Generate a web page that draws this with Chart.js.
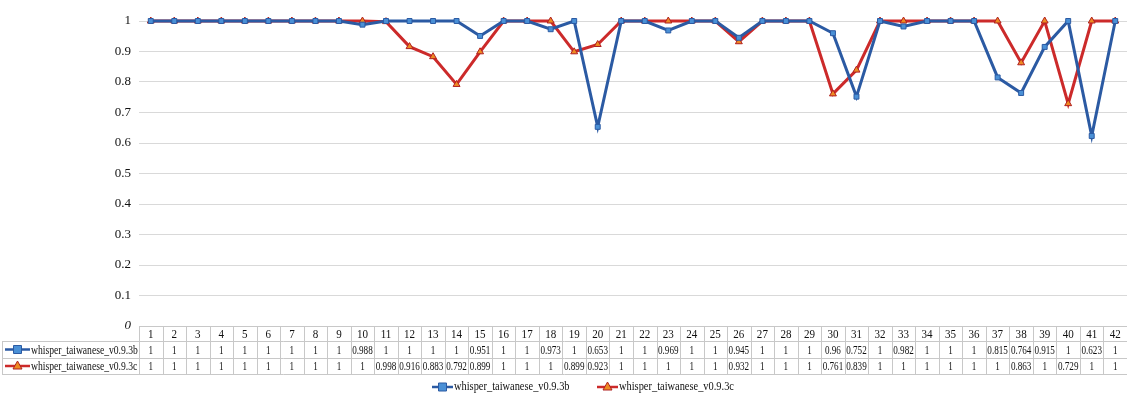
<!DOCTYPE html>
<html>
<head>
<meta charset="utf-8">
<script src="https://cdn.jsdelivr.net/npm/chart.js@4"></script>
<style>
  html, body { margin: 0; padding: 0; background: #fff; overflow: hidden; }
  #wrap { width: 1127px; height: 402px; overflow: hidden; }
</style>
</head>
<body>
<div id="wrap"><canvas id="chart" width="1132" height="402"></canvas></div>
<script>
// categories (test items 1..42)
const categories = [];
for (let i = 1; i <= 42; i++) categories.push(String(i));

// series names
const seriesB = 'whisper_taiwanese_v0.9.3b';
const seriesC = 'whisper_taiwanese_v0.9.3c';

const valuesB = [1, 1, 1, 1, 1, 1, 1, 1, 1, 0.988, 1, 1, 1, 1, 0.951, 1, 1, 0.973, 1, 0.653,
  1, 1, 0.969, 1, 1, 0.945, 1, 1, 1, 0.96, 0.752, 1, 0.982, 1, 1, 1, 0.815, 0.764, 0.915, 1, 0.623, 1];
const valuesC = [1, 1, 1, 1, 1, 1, 1, 1, 1, 1, 0.998, 0.916, 0.883, 0.792, 0.899, 1, 1, 1, 0.899, 0.923,
  1, 1, 1, 1, 1, 0.932, 1, 1, 1, 0.761, 0.839, 1, 1, 1, 1, 1, 1, 0.863, 1, 0.729, 1, 1];

// y axis tick values
const yTicks = [0, 0.1, 0.2, 0.3, 0.4, 0.5, 0.6, 0.7, 0.8, 0.9, 1];

const FONT = '"Liberation Serif", "Times New Roman", serif';
const BLUE_LINE = '#2b5aa3';
const BLUE_FILL = '#4a90d6';
const RED_LINE = '#cc2a2a';
const RED_FILL = '#ee8a22';
const GRID = '#d9d9d9';
const BORDER = '#c8c8c8';

// draws text squeezed horizontally, like the original
function condensed(ctx, text, x, y, align, sx) {
  ctx.save();
  ctx.translate(x, y);
  ctx.scale(sx, 1);
  ctx.textAlign = align;
  ctx.textBaseline = 'middle';
  ctx.fillText(text, 0, 0);
  ctx.restore();
}

// line + marker key, as used in the table and the legend
function drawKey(ctx, x, y, len, ds) {
  const cx = x + len / 2;
  ctx.save();
  ctx.strokeStyle = ds.borderColor;
  ctx.lineWidth = 2.5;
  ctx.beginPath();
  ctx.moveTo(x, y);
  ctx.lineTo(x + len, y);
  ctx.stroke();
  ctx.fillStyle = ds.pointBackgroundColor;
  ctx.strokeStyle = ds.pointBorderColor;
  ctx.lineWidth = 1;
  ctx.beginPath();
  if (ds.pointStyle === 'rect') {
    ctx.rect(cx - 4, y - 4, 8, 8);
  } else {
    ctx.moveTo(cx, y - 5);
    ctx.lineTo(cx + 4.5, y + 3);
    ctx.lineTo(cx - 4.5, y + 3);
    ctx.closePath();
  }
  ctx.fill();
  ctx.stroke();
  ctx.restore();
}

// data table under the plot + legend at the bottom
const tablePlugin = {
  id: 'dataTable',
  afterDraw(chart) {
    const ctx = chart.ctx;
    const x = chart.scales.x;
    const n = categories.length;
    const w = (x.right - x.left) / n;
    const rows = [326, 341, 358, 374];
    const labelLeft = 2;

    ctx.save();
    ctx.strokeStyle = BORDER;
    ctx.lineWidth = 1;
    ctx.beginPath();
    // horizontal lines
    ctx.moveTo(x.left, rows[0] + 0.5); ctx.lineTo(x.right, rows[0] + 0.5);
    for (let r = 1; r < rows.length; r++) {
      ctx.moveTo(labelLeft, rows[r] + 0.5); ctx.lineTo(x.right, rows[r] + 0.5);
    }
    // vertical lines
    ctx.moveTo(labelLeft + 0.5, rows[1]); ctx.lineTo(labelLeft + 0.5, rows[3]);
    for (let i = 0; i <= n; i++) {
      const px = Math.round(x.left + i * w) + 0.5;
      ctx.moveTo(px, rows[0]); ctx.lineTo(px, rows[3]);
    }
    ctx.stroke();

    ctx.fillStyle = '#111';
    ctx.font = '13px ' + FONT;
    categories.forEach((c, i) => {
      condensed(ctx, c, x.getPixelForValue(i), (rows[0] + rows[1]) / 2 + 1, 'center', 0.85);
    });

    const sets = chart.data.datasets;
    sets.forEach((ds, r) => {
      const cy = (rows[r + 1] + rows[r + 2]) / 2 + 1;
      drawKey(ctx, 5, cy - 1, 25, ds);
      ctx.fillStyle = '#111';
      ctx.font = '13px ' + FONT;
      condensed(ctx, ds.label, 31, cy, 'left', 0.74);
      ctx.font = '12px ' + FONT;
      ds.data.forEach((v, i) => {
        condensed(ctx, String(v), x.getPixelForValue(i), cy, 'center', 0.76);
      });
    });

    // legend
    const ly = 387;
    ctx.font = '13px ' + FONT;
    drawKey(ctx, 432, ly, 21, sets[0]);
    ctx.fillStyle = '#111';
    condensed(ctx, sets[0].label, 454, ly, 'left', 0.8);
    drawKey(ctx, 597, ly, 21, sets[1]);
    ctx.fillStyle = '#111';
    condensed(ctx, sets[1].label, 619, ly, 'left', 0.8);
    ctx.restore();
  }
};

new Chart(document.getElementById('chart').getContext('2d'), {
  type: 'line',
  data: {
    labels: categories,
    datasets: [{
      label: seriesB,
      data: valuesB,
      borderColor: BLUE_LINE,
      borderWidth: 3,
      pointStyle: 'rect',
      pointRadius: 3.5,
      pointBackgroundColor: BLUE_FILL,
      pointBorderColor: BLUE_LINE,
      pointBorderWidth: 1,
      tension: 0,
      clip: false
    }, {
      label: seriesC,
      data: valuesC,
      borderColor: RED_LINE,
      borderWidth: 3,
      pointStyle: 'triangle',
      pointRadius: 4,
      pointBackgroundColor: RED_FILL,
      pointBorderColor: '#b02020',
      pointBorderWidth: 1,
      tension: 0,
      clip: false
    }]
  },
  options: {
    responsive: false,
    animation: false,
    layout: { padding: { top: 21, bottom: 76, left: 0, right: 0 } },
    plugins: {
      legend: { display: false },
      tooltip: { enabled: false }
    },
    scales: {
      x: {
        display: false,
        offset: true
      },
      y: {
        min: 0,
        max: 1,
        afterFit(scale) { scale.width = 139; },
        afterBuildTicks(scale) { scale.ticks = yTicks.map(v => ({ value: v })); },
        border: { display: false },
        grid: {
          color: ctx => ctx.tick && ctx.tick.value === 0 ? 'rgba(0,0,0,0)' : GRID,
          drawTicks: false
        },
        ticks: {
          padding: 8,
          color: '#111',
          font: ctx => ({
            family: FONT,
            size: 13,
            style: ctx.tick && ctx.tick.value === 0 ? 'italic' : 'normal'
          }),
          callback: v => String(Math.round(v * 10) / 10)
        }
      }
    }
  },
  plugins: [tablePlugin]
});
</script>
</body>
</html>
